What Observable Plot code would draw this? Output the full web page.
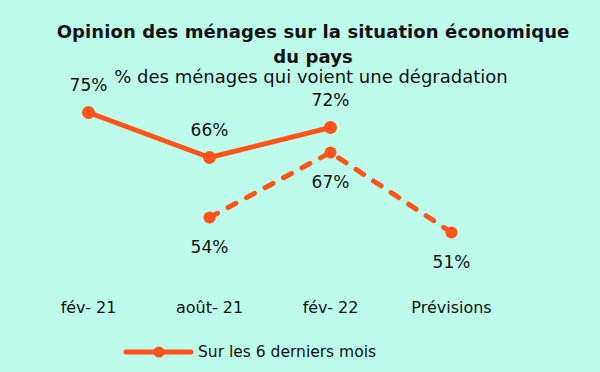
<!DOCTYPE html>
<html><head><meta charset="utf-8">
<script src="https://cdn.jsdelivr.net/npm/d3@7"></script>
<script src="https://cdn.jsdelivr.net/npm/@observablehq/plot@0.6"></script>
<style>
html,body{margin:0;padding:0;background:#bdfbea;}
#wrap{position:relative;width:600px;height:372px;overflow:hidden;font-family:"DejaVu Sans",sans-serif;color:#111;}
#title{position:absolute;left:0;width:626px;top:19px;text-align:center;font-weight:bold;font-size:18px;line-height:25px;letter-spacing:0.1px;}
#subtitle{position:absolute;left:0;width:622px;top:66px;text-align:center;font-size:18px;}
#legend{position:absolute;left:121px;top:343px;font-size:15.5px;display:flex;align-items:center;}
#chart{position:absolute;left:0;top:0;}
</style></head>
<body><div id="wrap"><div id="chart"></div>
<div id="title">Opinion des ménages sur la situation économique<br>du pays</div>
<div id="subtitle">% des ménages qui voient une dégradation</div>
<div id="legend"><svg width="74" height="18"><line x1="5" x2="70" y1="9" y2="9" stroke="#ff5319" stroke-width="5" stroke-linecap="round"/><circle cx="38" cy="9" r="5.5" fill="#ff5319"/></svg><span style="margin-left:3px">Sur les 6 derniers mois</span></div>
</div>
<script>
const categories = ["fév- 21", "août- 21", "fév- 22", "Prévisions"];
const solidPeriods = ["fév- 21", "août- 21", "fév- 22"];
const solidValues = [75, 66, 72];
const dashedPeriods = ["août- 21", "fév- 22", "Prévisions"];
const dashedValues = [54, 67, 51];

const solid = solidPeriods.map((p, i) => ({period: p, value: solidValues[i]}));
const dashed = dashedPeriods.map((p, i) => ({period: p, value: dashedValues[i]}));
const color = "#ff5319";

const plot = Plot.plot({
  width: 600, height: 372,
  marginTop: 87, marginBottom: 85, marginLeft: 0, marginRight: 0,
  style: {background: "transparent", fontFamily: '"DejaVu Sans",sans-serif', color: "#111"},
  x: {type: "point", domain: categories, range: [87, 452], padding: 0},
  y: {domain: [40, 80], range: [287, 87], axis: null},
  marks: [
    Plot.axisX({tickSize: 0, tickPadding: 14, fontSize: 16, label: null}),
    Plot.line(dashed, {x: "period", y: "value", stroke: color, strokeWidth: 5, strokeDasharray: "9,12", strokeLinecap: "round"}),
    Plot.dot(dashed, {x: "period", y: "value", fill: color, r: 6}),
    Plot.line(solid, {x: "period", y: "value", stroke: color, strokeWidth: 5}),
    Plot.dot(solid, {x: "period", y: "value", fill: color, r: 6.5}),
    Plot.text(solid, {x: "period", y: "value", text: d => d.value + "%", dy: -27, fontSize: 17, fill: "#111"}),
    Plot.text(dashed, {x: "period", y: "value", text: d => d.value + "%", dy: 30, fontSize: 17, fill: "#111"})
  ]
});
document.getElementById("chart").appendChild(plot);
</script>
</body></html>
